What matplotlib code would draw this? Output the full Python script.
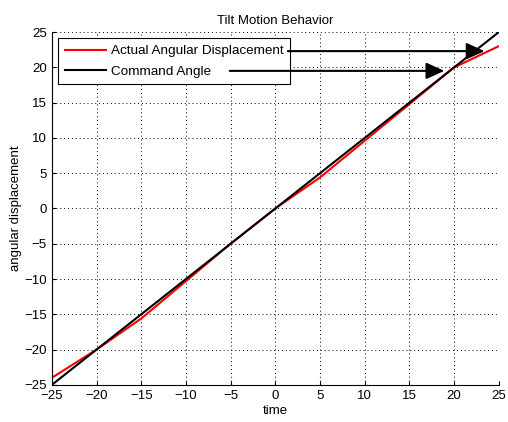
import matplotlib
matplotlib.use("Agg")
import matplotlib.pyplot as plt
import numpy as np

plt.rcParams['font.family'] = ['Liberation Sans', 'DejaVu Sans']

x_vals = [-25, -20, -15, -10, -5, 0, 5, 10, 15, 20, 25]
actual = [-24, -20, -15.6, -10.3, -5, 0, 4.4, 9.6, 14.8, 20, 23]
command = [-25, -20, -15, -10, -5, 0, 5, 10, 15, 20, 25]
ticks = [-25, -20, -15, -10, -5, 0, 5, 10, 15, 20, 25]

fig = plt.figure(figsize=(5.08, 4.22), dpi=100)
ax = fig.add_axes([0.102, 0.088, 0.880, 0.836])
ax.plot(x_vals, actual, color='red', lw=1.5, label='Actual Angular Displacement')
ax.plot(x_vals, command, color='black', lw=1.5, label='Command Angle')
ax.set_xlim(-25, 25)
ax.set_ylim(-25, 25)
ax.set_xticks(ticks)
ax.set_yticks(ticks)
ax.spines['top'].set_visible(False)
ax.spines['right'].set_visible(False)
ax.tick_params(direction='in', labelsize=9.5, length=3)
ax.grid(True, color='black', linestyle=(0, (1, 3)), lw=0.7)
ax.set_xlabel('time', fontsize=9.5, labelpad=2)
ax.set_ylabel('angular displacement', fontsize=9.5, labelpad=2)
ax.set_title('Tilt Motion Behavior', fontsize=9.5, pad=6)
leg = ax.legend(loc='upper left', fontsize=9.7, fancybox=False, edgecolor='black',
                framealpha=1, handlelength=3.1, borderpad=0.5, labelspacing=0.6,
                handletextpad=0.35, borderaxespad=0, bbox_to_anchor=(0.0134, 0.983))
leg.get_frame().set_linewidth(0.8)
leg.set_zorder(5)

ap = dict(arrowstyle='-|>,head_length=1.1,head_width=0.5', color='black', lw=1.5,
          shrinkA=0, shrinkB=0)
a1 = ax.annotate('', xy=(23.4, 22.3), xytext=(1.4, 22.3), arrowprops=ap)
a2 = ax.annotate('', xy=(18.9, 19.5), xytext=(-5.1, 19.5), arrowprops=ap)
a1.set_zorder(6)
a2.set_zorder(6)

fig.savefig('out.png', dpi=100)
